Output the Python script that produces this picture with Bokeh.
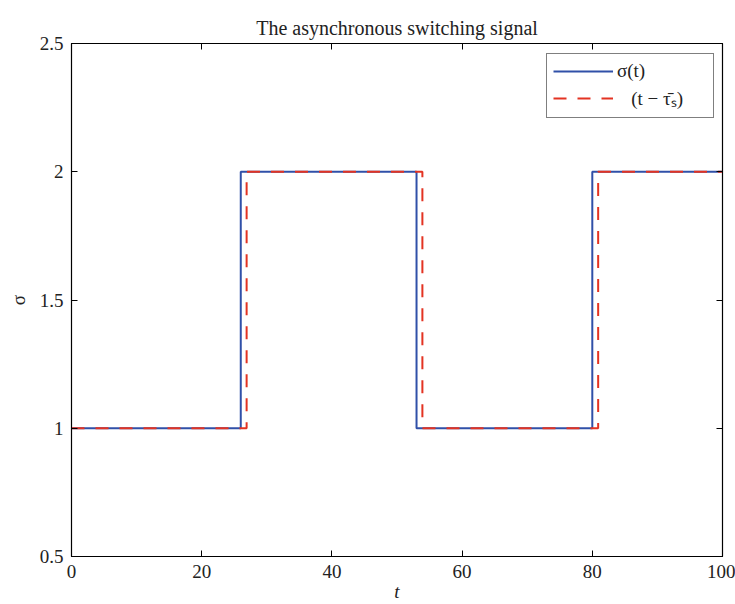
from bokeh.plotting import figure
from bokeh.models import LinearAxis, FixedTicker, Legend, LegendItem, Range1d
from bokeh.embed import file_html
from bokeh.resources import INLINE

# data
sigma_t = [0, 26, 53, 80, 100]
sigma_v = [1, 2, 1, 2, 2]
delayed_t = [0, 26.9, 53.9, 80.9, 100]
delayed_v = [1, 2, 1, 2, 2]
x_ticks = [0, 20, 40, 60, 80, 100]
y_ticks = [0.5, 1, 1.5, 2, 2.5]

FONT = "Liberation Serif"
FS = "19px"

p = figure(width=735, height=604, output_backend="svg", toolbar_location=None,
           x_range=Range1d(0, 100), y_range=Range1d(0.5, 2.5),
           min_border_left=71, min_border_right=13, min_border_top=43, min_border_bottom=48)
p.title.text = "The asynchronous switching signal"
p.title.align = "center"
p.title.text_font = FONT
p.title.text_font_size = "20px"
p.title.text_font_style = "normal"
p.title.text_color = "#222222"
p.grid.visible = False
p.outline_line_color = "black"
p.outline_line_width = 1.2
p.background_fill_color = "white"
p.border_fill_color = "white"

blue = p.step(sigma_t, sigma_v, mode="after", line_color="#3050A8", line_width=2)
red = p.step(delayed_t, delayed_v, mode="after", line_color="#E33322", line_width=2,
             line_dash="13 11")

def style_axis(ax, labels=True):
    ax.major_tick_in = 6
    ax.major_tick_out = 0
    ax.minor_tick_line_color = None
    ax.axis_line_color = "black"
    ax.major_tick_line_color = "black"
    ax.major_label_text_font = FONT
    ax.major_label_text_font_size = FS
    ax.major_label_text_color = "#222222" if labels else None
    ax.axis_label_text_font = FONT
    ax.axis_label_text_font_size = FS
    ax.axis_label_text_font_style = "normal"
    ax.axis_label_text_color = "#222222"
    ax.major_label_standoff = 8

p.xaxis.ticker = FixedTicker(ticks=x_ticks)
p.yaxis.ticker = FixedTicker(ticks=y_ticks)
p.yaxis.major_label_overrides = {0.5: "0.5", 1: "1", 1.5: "1.5", 2: "2", 2.5: "2.5"}
style_axis(p.xaxis[0])
style_axis(p.yaxis[0])
p.xaxis.axis_label = "t"
p.xaxis.axis_label_text_font_style = "italic"
p.xaxis.axis_label_standoff = 0
p.yaxis.axis_label = "σ"
p.yaxis.axis_label_standoff = 8

top = LinearAxis(ticker=FixedTicker(ticks=x_ticks))
style_axis(top, labels=False)
top.major_label_text_font_size = "0px"
right = LinearAxis(ticker=FixedTicker(ticks=y_ticks))
style_axis(right, labels=False)
right.major_label_text_font_size = "0px"
p.add_layout(top, "above")
p.add_layout(right, "right")

legend = Legend(items=[LegendItem(label="σ(t)", renderers=[blue]),
                       LegendItem(label="   (t − τ̄ₛ)", renderers=[red])],
                location=(475, 438))
legend.label_text_font = FONT
legend.label_text_font_size = FS
legend.label_text_color = "#222222"
legend.glyph_width = 60
legend.glyph_height = 22
legend.label_height = 22
legend.label_width = 90
legend.label_standoff = 4
legend.spacing = 3
legend.padding = 6
legend.margin = 0
legend.border_line_color = "black"
legend.border_line_width = 1.2
legend.background_fill_alpha = 1
p.add_layout(legend)

open("out.html", "w").write(file_html(p, INLINE))
